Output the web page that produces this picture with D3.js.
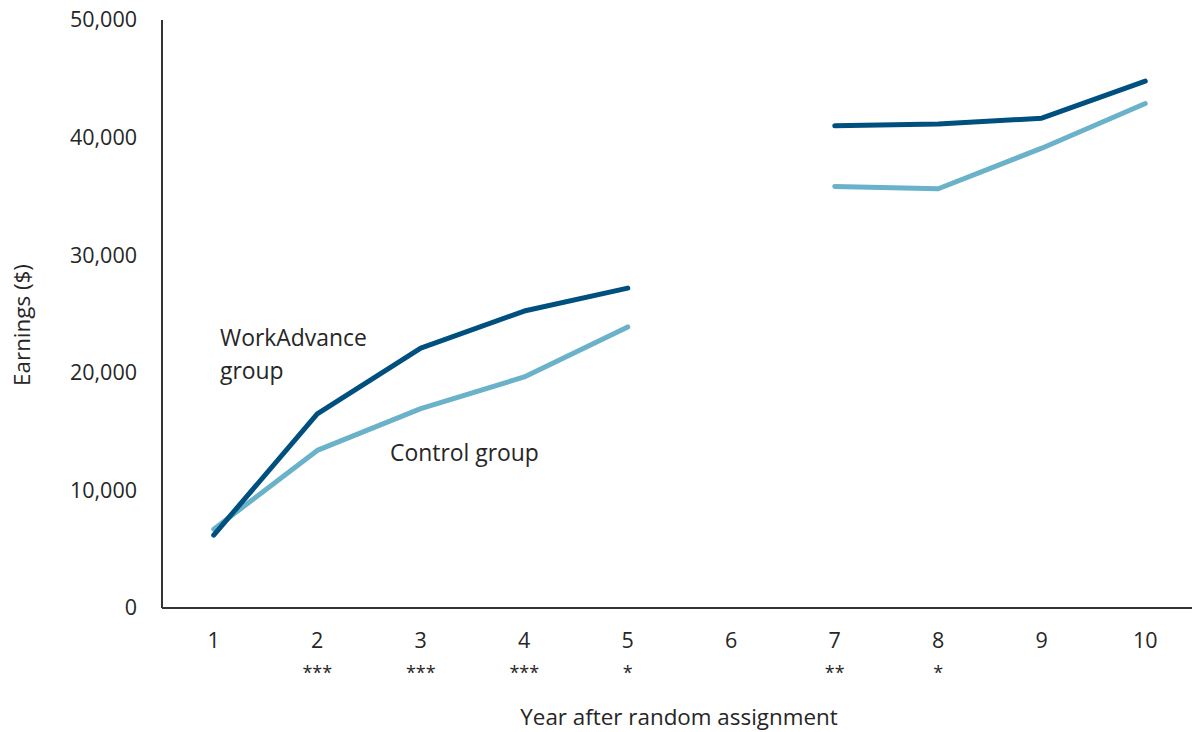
<!DOCTYPE html>
<html>
<head>
<meta charset="utf-8">
<script src="https://cdn.jsdelivr.net/npm/d3@7"></script>
<style>
  html, body { margin: 0; padding: 0; background: #fff; }
  svg { display: block; font-family: "Open Sans", "Noto Sans", sans-serif; }
</style>
</head>
<body>
<svg id="chart" width="1192" height="732"></svg>
<script>
// Annual earnings by year after random assignment (year 6 not observed)
const years = ["1", "2", "3", "4", "5", "6", "7", "8", "9", "10"];
const workAdvance = [6200, 16500, 22100, 25250, 27200, null, 41000, 41150, 41650, 44800];
const control = [6700, 13400, 16950, 19650, 23900, null, 35850, 35650, 39100, 42900];
const significance = ["", "***", "***", "***", "*", "", "**", "*", "", ""];
const yTicks = [0, 10000, 20000, 30000, 40000, 50000];

const svg = d3.select("#chart");
const plotLeft = 162, plotRight = 1197, plotTop = 20, plotBottom = 608;

const x = d3.scaleBand().domain(years).range([plotLeft, plotRight]);
const y = d3.scaleLinear().domain([0, 50000]).range([plotBottom, plotTop]);
const cx = d => x(d) + x.bandwidth() / 2;

const textColor = "#262626";
const tickSize = 21.5;

// y axis
const yAxis = svg.append("g")
  .attr("transform", `translate(${plotLeft},0)`)
  .call(d3.axisLeft(y).tickValues(yTicks).tickSize(0).tickPadding(25).tickFormat(d3.format(",")));
yAxis.select(".domain").attr("stroke", "#333").attr("stroke-width", 2).attr("d", `M0,${plotTop}V${plotBottom}`);
yAxis.selectAll("text").attr("font-size", tickSize).attr("fill", textColor).attr("font-family", "Open Sans");

// x axis
const xAxis = svg.append("g")
  .attr("transform", `translate(0,${plotBottom})`)
  .call(d3.axisBottom(x).tickSize(0).tickPadding(25));
xAxis.select(".domain").attr("stroke", "#333").attr("stroke-width", 2).attr("d", `M${plotLeft},0H1192`);
xAxis.selectAll("text").attr("font-size", tickSize).attr("fill", textColor).attr("font-family", "Open Sans");

// significance markers under the year labels
svg.append("g").selectAll("text")
  .data(years.map((yr, i) => ({ yr, s: significance[i] })).filter(d => d.s))
  .join("text")
  .attr("x", d => cx(d.yr))
  .attr("y", 679)
  .attr("text-anchor", "middle")
  .attr("font-size", 18)
  .attr("fill", textColor)
  .text(d => d.s);

// axis titles
svg.append("text")
  .attr("x", 679).attr("y", 725)
  .attr("text-anchor", "middle")
  .attr("font-size", 22.4).attr("fill", textColor)
  .text("Year after random assignment");

svg.append("text")
  .attr("transform", "translate(30,325) rotate(-90)")
  .attr("text-anchor", "middle")
  .attr("font-size", 22.4).attr("fill", textColor)
  .text("Earnings ($)");

// series lines
const line = d3.line()
  .defined(d => d.v != null)
  .x(d => cx(d.yr))
  .y(d => y(d.v));

const series = [
  { name: "Control group", values: control, color: "#6ab2c9" },
  { name: "WorkAdvance group", values: workAdvance, color: "#00507f" }
];

svg.append("g").selectAll("path")
  .data(series)
  .join("path")
  .attr("fill", "none")
  .attr("stroke", d => d.color)
  .attr("stroke-width", 5)
  .attr("stroke-linecap", "round")
  .attr("stroke-linejoin", "round")
  .attr("d", d => line(d.values.map((v, i) => ({ yr: years[i], v }))));

// direct labels
const wa = svg.append("text").attr("font-size", 22.9).attr("fill", textColor);
wa.append("tspan").attr("x", 220).attr("y", 346).text("WorkAdvance");
wa.append("tspan").attr("x", 220).attr("y", 379).text("group");

svg.append("text")
  .attr("x", 390).attr("y", 461)
  .attr("font-size", 22.9).attr("fill", textColor)
  .text("Control group");
</script>
</body>
</html>
